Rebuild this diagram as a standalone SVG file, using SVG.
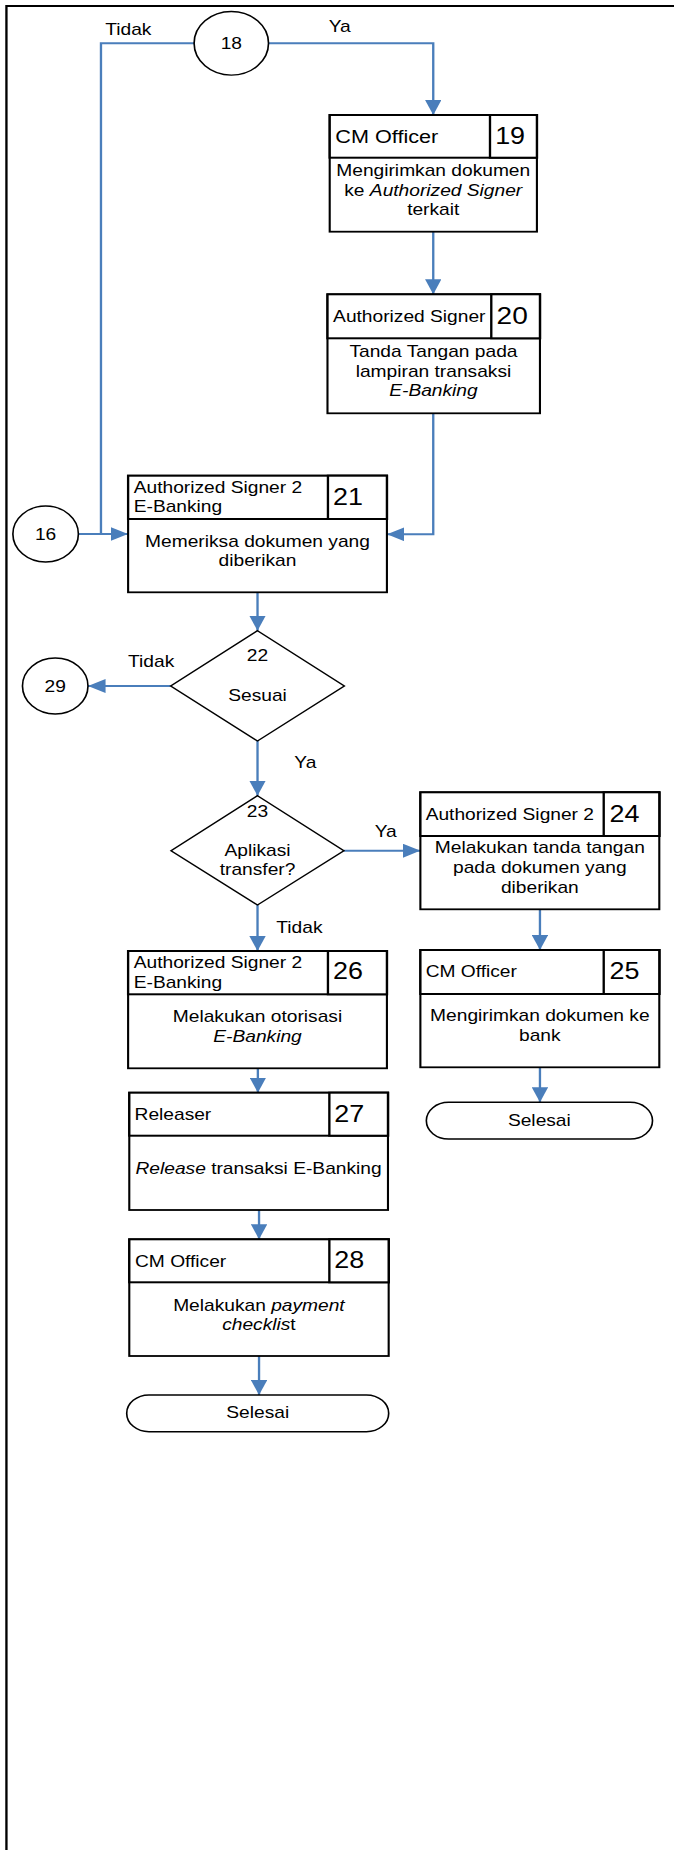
<svg xmlns="http://www.w3.org/2000/svg" width="674" height="1850" viewBox="0 0 674 1850">
  <defs>
    <style>
      .frame { fill: none; stroke: #000; stroke-width: 2; }
      .box { fill: #fff; stroke: #000; stroke-width: 1.8; }
      .hdr { fill: #fff; stroke: #000; stroke-width: 2; }
      .shape { fill: #fff; stroke: #000; stroke-width: 1.4; }
      .conn { fill: none; stroke: #4a7ebb; stroke-width: 2; }
      .arrow { marker-end: url(#ah); }
      text { font-family: "Liberation Sans", Arial, sans-serif; font-size: 16.4px; fill: #000; }
      .c { text-anchor: middle; }
      .big { font-size: 18.5px; }
      .num { font-size: 23px; }
      .i { font-style: italic; }
    </style>
    <marker id="ah" viewBox="0 0 15 14" refX="15" refY="7" markerUnits="userSpaceOnUse" markerWidth="15" markerHeight="14" orient="auto">
      <path d="M0,0 L15,7 L0,14 z" fill="#4a7ebb"/>
    </marker>
  </defs>

  <g transform="scale(1.17 1)">
    <!-- page frame -->
    <path class="frame" d="M5.5,1850 V6 H577"/>

    <!-- connectors -->
    <g id="connectors">
      <path class="conn" d="M165.9,43.3 H86.3 V534"/>
      <path class="conn arrow" d="M229.5,43.3 H370.3 V115"/>
      <path class="conn arrow" d="M370.3,231.7 V294.3"/>
      <path class="conn arrow" d="M370.3,413.3 V534.3 H330.7"/>
      <path class="conn arrow" d="M67,534 H109.5"/>
      <path class="conn arrow" d="M220.1,592.3 V630.7"/>
      <path class="conn arrow" d="M145.9,686 H75.2"/>
      <path class="conn arrow" d="M220.1,741 V795.7"/>
      <path class="conn arrow" d="M293.9,850.7 H359.3"/>
      <path class="conn arrow" d="M220.1,905 V951"/>
      <path class="conn arrow" d="M461.5,909.3 V950"/>
      <path class="conn arrow" d="M461.5,1067.3 V1102.3"/>
      <path class="conn arrow" d="M220.4,1068.3 V1092.7"/>
      <path class="conn arrow" d="M221.4,1210 V1239.3"/>
      <path class="conn arrow" d="M221.4,1356 V1395"/>
      <text x="90" y="35">Tidak</text>
      <text x="281" y="31.7">Ya</text>
      <text x="109.5" y="666.7">Tidak</text>
      <text x="251.6" y="768.3">Ya</text>
      <text x="320.3" y="836.7">Ya</text>
      <text x="236.2" y="933.3">Tidak</text>
    </g>

    <!-- off-page connector 18 -->
    <g id="n18">
      <circle class="shape" cx="197.7" cy="43.3" r="31.8"/>
      <text class="c" x="197.7" y="49">18</text>
    </g>

    <!-- step 19 -->
    <g id="n19">
      <rect class="box" x="281.8" y="115" width="177.1" height="116.7"/>
      <rect class="hdr" x="281.8" y="115" width="177.1" height="42.7"/>
      <rect class="hdr" x="418.8" y="115" width="40.1" height="42.7"/>
      <text class="big" x="286.6" y="142.7">CM Officer</text>
      <text class="num" x="423.2" y="144">19</text>
      <text class="c" x="370.3" y="176">Mengirimkan dokumen</text>
      <text class="c" x="370.3" y="195.7">ke <tspan class="i">Authorized Signer</tspan></text>
      <text class="c" x="370.3" y="215">terkait</text>
    </g>

    <!-- step 20 -->
    <g id="n20">
      <rect class="box" x="279.9" y="294.3" width="181.6" height="119"/>
      <rect class="hdr" x="279.9" y="294.3" width="181.6" height="44"/>
      <rect class="hdr" x="419.9" y="294.3" width="41.6" height="44"/>
      <text x="284.7" y="322.3">Authorized Signer</text>
      <text class="num" x="424.4" y="324" style="font-size:24px">20</text>
      <text class="c" x="370.5" y="357.3">Tanda Tangan pada</text>
      <text class="c" x="370.5" y="376.7">lampiran transaksi</text>
      <text class="c i" x="370.5" y="396">E-Banking</text>
    </g>

    <!-- off-page connector 16 -->
    <g id="n16">
      <circle class="shape" cx="39" cy="534" r="28"/>
      <text class="c" x="39" y="540">16</text>
    </g>

    <!-- step 21 -->
    <g id="n21">
      <rect class="box" x="109.5" y="475.7" width="221.2" height="116.6"/>
      <rect class="hdr" x="109.5" y="475.7" width="221.2" height="43.3"/>
      <rect class="hdr" x="280.3" y="475.7" width="50.4" height="43.3"/>
      <text x="114.3" y="492.7">Authorized Signer 2</text>
      <text x="114.3" y="512.3">E-Banking</text>
      <text class="num" x="284.7" y="505">21</text>
      <text class="c" x="220.1" y="546.7">Memeriksa dokumen yang</text>
      <text class="c" x="220.1" y="566">diberikan</text>
    </g>

    <!-- decision 22 -->
    <g id="n22">
      <polygon class="shape" points="220.1,630.7 294.3,686 220.1,741 145.9,686"/>
      <text class="c" x="220.1" y="661">22</text>
      <text class="c" x="220.1" y="701">Sesuai</text>
    </g>

    <!-- off-page connector 29 -->
    <g id="n29">
      <circle class="shape" cx="47.2" cy="686" r="28"/>
      <text class="c" x="47.2" y="692">29</text>
    </g>

    <!-- decision 23 -->
    <g id="n23">
      <polygon class="shape" points="220.1,795.7 293.9,850.7 220.1,905 146.2,850.7"/>
      <text class="c" x="220.1" y="816.7">23</text>
      <text class="c" x="220.1" y="856">Aplikasi</text>
      <text class="c" x="220.1" y="875">transfer?</text>
    </g>

    <!-- step 24 -->
    <g id="n24">
      <rect class="box" x="359.3" y="792.3" width="204.2" height="117"/>
      <rect class="hdr" x="359.3" y="792.3" width="204.2" height="43.7"/>
      <rect class="hdr" x="516" y="792.3" width="47.5" height="43.7"/>
      <text x="363.8" y="820">Authorized Signer 2</text>
      <text class="num" x="520.9" y="821.7">24</text>
      <text class="c" x="461.4" y="853.3">Melakukan tanda tangan</text>
      <text class="c" x="461.4" y="873.3">pada dokumen yang</text>
      <text class="c" x="461.4" y="892.7">diberikan</text>
    </g>

    <!-- step 25 -->
    <g id="n25">
      <rect class="box" x="359.3" y="950" width="204.2" height="117.3"/>
      <rect class="hdr" x="359.3" y="950" width="204.2" height="44"/>
      <rect class="hdr" x="516" y="950" width="47.5" height="44"/>
      <text x="363.8" y="977.3">CM Officer</text>
      <text class="num" x="520.9" y="979.3">25</text>
      <text class="c" x="461.4" y="1021">Mengirimkan dokumen ke</text>
      <text class="c" x="461.4" y="1040.7">bank</text>
    </g>

    <!-- terminator after 25 -->
    <g id="end25">
      <rect class="shape" x="364.4" y="1102.3" width="193.3" height="36.7" rx="19" ry="18.3"/>
      <text class="c" x="461" y="1126">Selesai</text>
    </g>

    <!-- step 26 -->
    <g id="n26">
      <rect class="box" x="109.5" y="951" width="221.2" height="117.3"/>
      <rect class="hdr" x="109.5" y="951" width="221.2" height="43.3"/>
      <rect class="hdr" x="280.3" y="951" width="50.4" height="43.3"/>
      <text x="114.3" y="968.3">Authorized Signer 2</text>
      <text x="114.3" y="987.7">E-Banking</text>
      <text class="num" x="284.7" y="979.3">26</text>
      <text class="c" x="220.1" y="1021.7">Melakukan otorisasi</text>
      <text class="c i" x="220.1" y="1041.7">E-Banking</text>
    </g>

    <!-- step 27 -->
    <g id="n27">
      <rect class="box" x="110.5" y="1092.7" width="221.1" height="117.3"/>
      <rect class="hdr" x="110.5" y="1092.7" width="221.1" height="43"/>
      <rect class="hdr" x="281.5" y="1092.7" width="50.1" height="43"/>
      <text x="115" y="1120">Releaser</text>
      <text class="num" x="285.8" y="1122.3">27</text>
      <text class="c" x="221" y="1174"><tspan class="i">Release</tspan> transaksi E-Banking</text>
    </g>

    <!-- step 28 -->
    <g id="n28">
      <rect class="box" x="110.5" y="1239.3" width="221.7" height="116.7"/>
      <rect class="hdr" x="110.5" y="1239.3" width="221.7" height="43"/>
      <rect class="hdr" x="281.5" y="1239.3" width="50.7" height="43"/>
      <text x="115.4" y="1266.7">CM Officer</text>
      <text class="num" x="285.7" y="1267.7">28</text>
      <text class="c" x="221.3" y="1310.7">Melakukan <tspan class="i">payment</tspan></text>
      <text class="c" x="221.3" y="1330"><tspan class="i">checklis</tspan>t</text>
    </g>

    <!-- terminator after 28 -->
    <g id="end28">
      <rect class="shape" x="108.3" y="1395" width="223.9" height="36.7" rx="19" ry="18.3"/>
      <text class="c" x="220.3" y="1418.3">Selesai</text>
    </g>
  </g>
</svg>
